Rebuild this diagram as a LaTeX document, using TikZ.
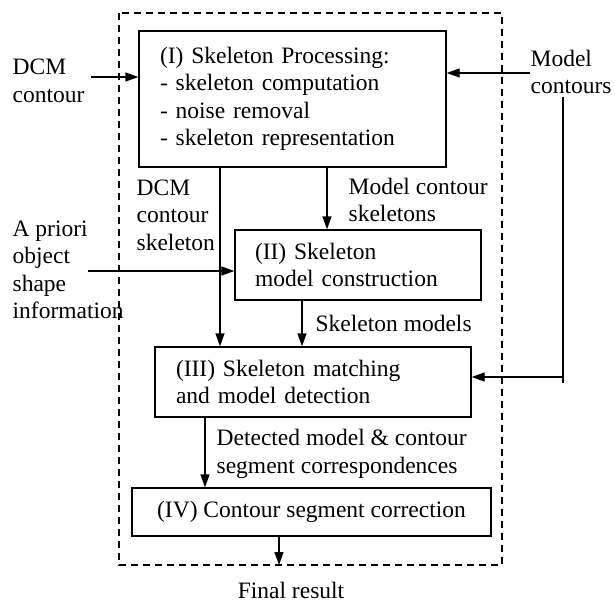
\documentclass[tikz,border=0pt]{standalone}
\usepackage{fontspec}
\setmainfont{Liberation Serif}
\usetikzlibrary{arrows.meta}

\begin{document}
\begin{tikzpicture}[x=1pt, y=-1pt, line width=1.3pt,
        font=\fontsize{23.5}{27.5}\selectfont,
        box/.style={draw, inner sep=0pt, align=left},
        lbl/.style={inner sep=0pt, align=left, anchor=west},
        arr/.style={-{Triangle[length=13pt,width=9pt]}}]
            \useasboundingbox (0,0) rectangle (615,603);
            \draw[line width=1.1pt, dash pattern=on 7pt off 5pt] (119,13) rectangle (502,565);
            \node[box, minimum width=307, minimum height=136, text width=265] (1) at (292.5,99) {(I) Skeleton Processing:\\- skeleton computation\\- noise removal\\- skeleton representation};
            \node[box, minimum width=246, minimum height=70, text width=206] (2) at (358,265) {(II) Skeleton\\model construction};
            \node[box, minimum width=316, minimum height=70, text width=274] (3) at (313,382) {(III) Skeleton matching\\and model detection};
            \node[box, minimum width=359, minimum height=48, align=center] (4) at (311.5,512) {(IV) Contour segment correction};
            \node[lbl] (5) at (12,81) {DCM\\contour};
            \node[lbl] (6) at (530,72) {Model\\contours};
            \node[lbl] (7) at (12,270) {A priori\\object\\shape\\information};
            \node[lbl] (8) at (136,215) {DCM\\contour\\skeleton};
            \node[lbl] (9) at (348,200) {Model contour\\skeletons};
            \node[lbl] (10) at (315,323) {Skeleton models};
            \node[lbl] (11) at (216,454) {Detected model \& contour\\segment correspondences};
            \node[inner sep=0pt] (12) at (291,590) {Final result};
            \coordinate (13) at (91,77);
            \coordinate (14) at (530,73);
            \coordinate (15) at (563,97);
            \coordinate (16) at (563,383);
            \coordinate (17) at (563,377);
            \coordinate (18) at (88,271);
            \coordinate (19) at (220,0);
            \coordinate (20) at (327,0);
            \coordinate (21) at (302,0);
            \coordinate (22) at (205,0);
            \coordinate (23) at (279,565);
            \draw[arr] (13) to (1.west |- 13);
            \draw[arr] (14) to (1.east |- 14);
            \draw (15) to (16);
            \draw[arr] (17) to (3.east |- 17);
            \draw[arr] (18) to (2.west |- 18);
            \draw[arr] (1.south -| 19) to (3.north -| 19);
            \draw[arr] (1.south -| 20) to (2.north -| 20);
            \draw[arr] (2.south -| 21) to (3.north -| 21);
            \draw[arr] (3.south -| 22) to (4.north -| 22);
            \draw[arr] (4.south -| 23) to (23);
        \end{tikzpicture}
\end{document}
